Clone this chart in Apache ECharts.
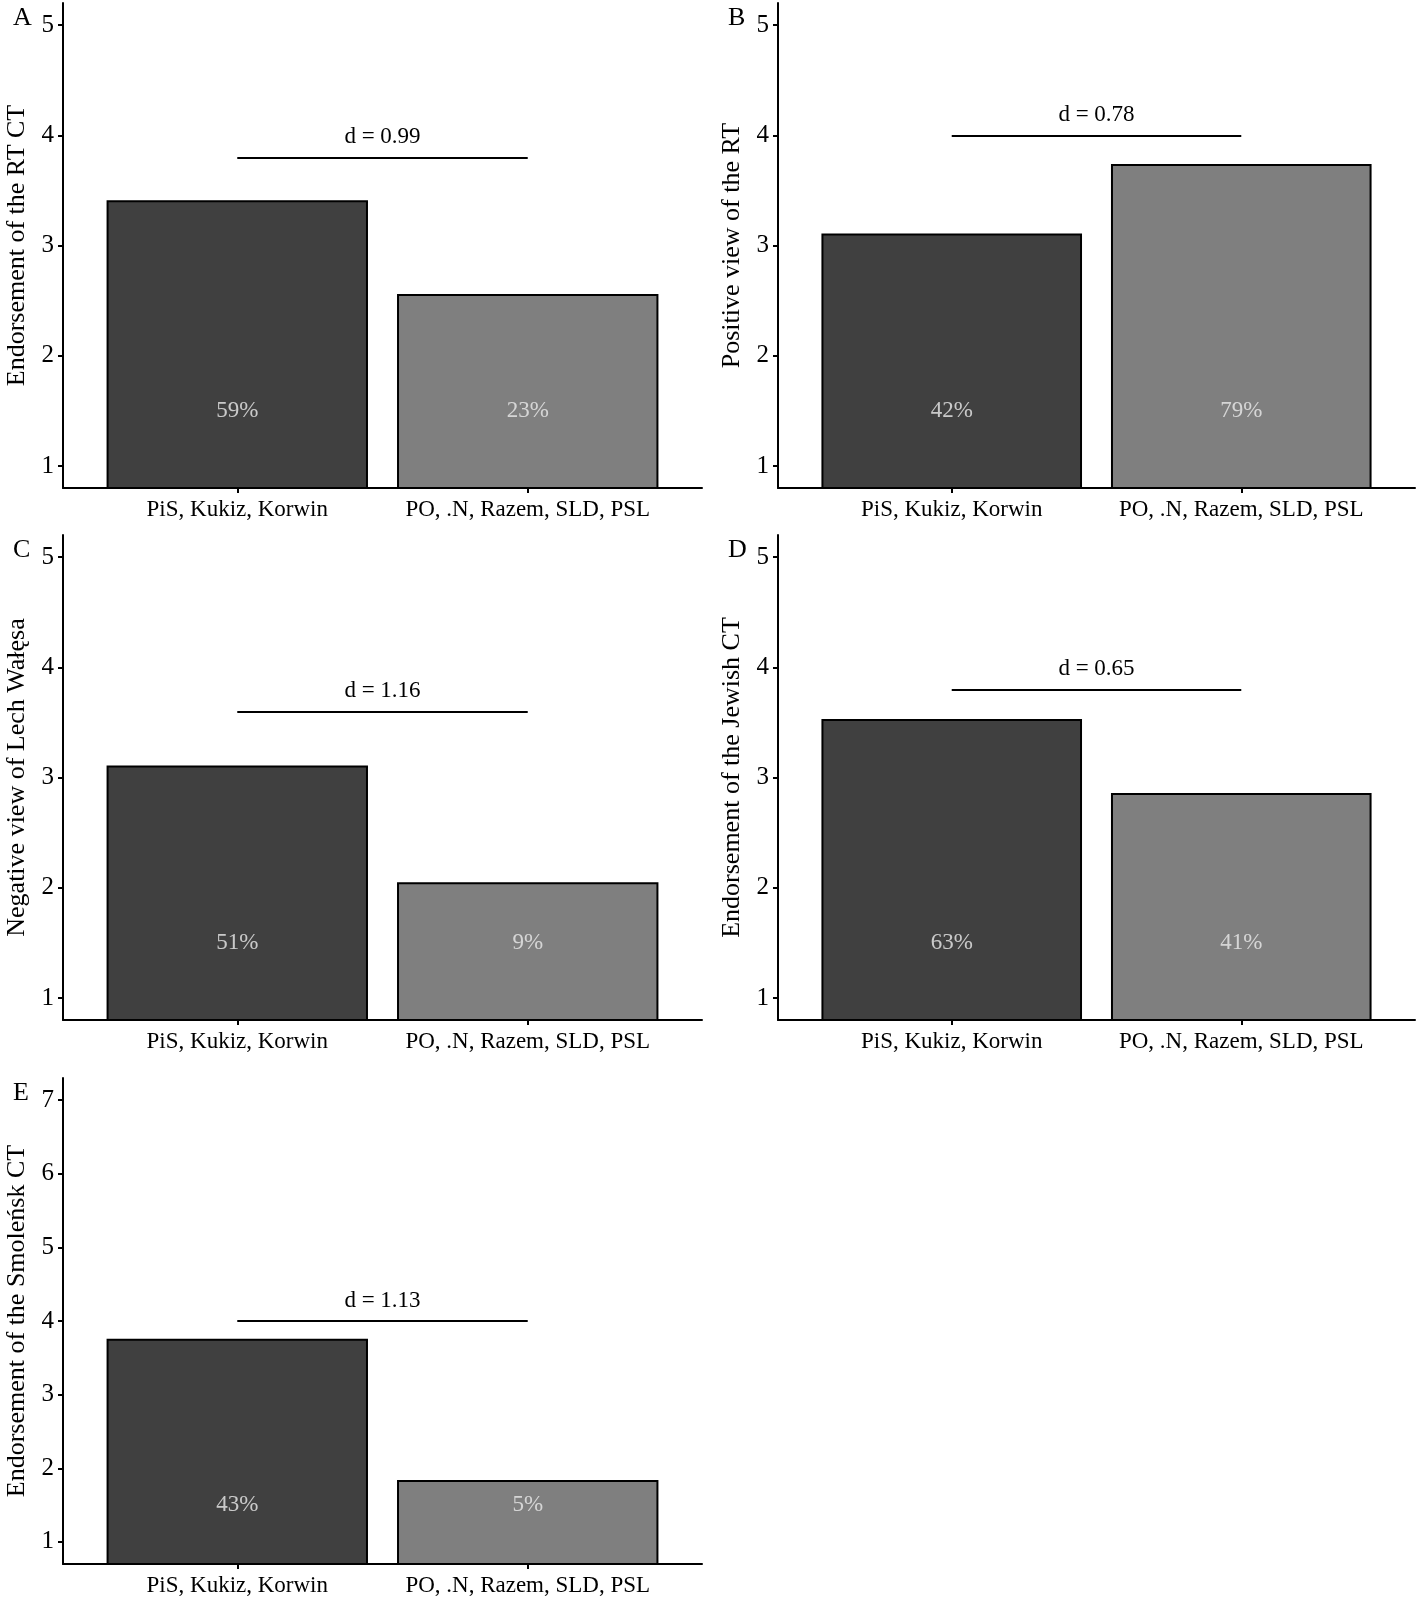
<!DOCTYPE html>
<html>
<head>
    <meta charset="UTF-8">
    <script src="https://cdn.jsdelivr.net/npm/echarts@6/dist/echarts.min.js"></script>
    <style>
        html, body { margin: 0; padding: 0; background: #fff; }
        #main { width: 1428px; height: 1598px; }
    </style>
</head>
<body>
<div id="main"></div>
<script type="text/javascript">
    // data
    var groups = ['PiS, Kukiz, Korwin', 'PO, .N, Razem, SLD, PSL'];
    var panelLetters = ['A', 'B', 'C', 'D', 'E'];
    var yTitles = ['Endorsement of the RT CT', 'Positive view of the RT', 'Negative view of Lech Wałęsa',
        'Endorsement of the Jewish CT', 'Endorsement of the Smoleńsk CT'];
    var pisMeans = [3.41, 3.11, 3.11, 3.53, 3.76];
    var poMeans = [2.56, 3.74, 2.05, 2.86, 1.84];
    var pisPct = ['59%', '42%', '51%', '63%', '43%'];
    var poPct = ['23%', '79%', '9%', '41%', '5%'];
    var dValues = ['0.99', '0.78', '1.16', '0.65', '1.13'];
    var dHeights = [3.8, 4.0, 3.6, 3.8, 4.0];
    var pctHeight = 1.5;
    var yTicksSmall = [1, 2, 3, 4, 5];
    var yTicksLarge = [1, 2, 3, 4, 5, 6, 7];

    var font = 'Liberation Serif';
    var fs = 23;
    var barColors = ['#404040', '#7f7f7f'];

    // panel boxes (px): left, right margin, top, height
    var boxes = [
        {left: 63, right: 726, top: 3, height: 485},
        {left: 778, right: 13, top: 3, height: 485},
        {left: 63, right: 726, top: 535, height: 485},
        {left: 778, right: 13, top: 535, height: 485},
        {left: 63, right: 726, top: 1078, height: 486}
    ];

    var myChart = echarts.init(document.getElementById('main'));
    var grids = [], xAxes = [], yAxes = [], series = [], titles = [];

    for (var i = 0; i < 5; i++) {
        var b = boxes[i];
        var big = i === 4;
        var ticks = big ? yTicksLarge : yTicksSmall;
        var gridW = 1428 - b.left - b.right;
        grids.push({left: b.left, right: b.right, top: b.top, height: b.height});
        titles.push({
            text: panelLetters[i], left: b.left - 55, top: b.top - 3,
            textStyle: {fontFamily: font, fontSize: 26, fontWeight: 'normal', color: '#000'}
        });
        xAxes.push({
            gridIndex: i, type: 'value', min: 0.4, max: 2.6,
            splitLine: {show: false},
            axisLine: {lineStyle: {color: '#000', width: 2}},
            axisTick: {customValues: [1, 2], length: 5, lineStyle: {color: '#000', width: 2}},
            axisLabel: {
                customValues: [1, 2], margin: 10, color: '#000', fontFamily: font, fontSize: fs,
                formatter: function (v) { return groups[Math.round(v) - 1]; }
            }
        });
        yAxes.push({
            gridIndex: i, type: 'value',
            min: big ? 0.7 : 0.8, max: big ? 7.3 : 5.2,
            name: yTitles[i], nameLocation: 'middle', nameGap: 33,
            nameTextStyle: {fontFamily: font, fontSize: 26, color: '#000'},
            splitLine: {show: false},
            axisLine: {show: true, lineStyle: {color: '#000', width: 2}},
            axisTick: {show: true, customValues: ticks, length: 5, lineStyle: {color: '#000', width: 2}},
            axisLabel: {customValues: ticks, margin: 9, color: '#000', fontFamily: font, fontSize: 25}
        });
        series.push({
            type: 'bar', xAxisIndex: i, yAxisIndex: i, clip: true,
            barWidth: 0.9 * gridW / 2.2,
            data: [
                {value: [1, pisMeans[i]], itemStyle: {color: barColors[0]}},
                {value: [2, poMeans[i]], itemStyle: {color: barColors[1]}}
            ],
            itemStyle: {borderColor: '#000', borderWidth: 2},
            markLine: {
                silent: true, symbol: 'none', animation: false,
                lineStyle: {color: '#000', width: 2, type: 'solid'},
                label: {
                    show: true, position: 'insideMiddleTop', distance: 9,
                    formatter: 'd = ' + dValues[i],
                    color: '#000', fontFamily: font, fontSize: fs
                },
                data: [[{coord: [1, dHeights[i]]}, {coord: [2, dHeights[i]]}]]
            }
        });
        series.push({
            type: 'scatter', xAxisIndex: i, yAxisIndex: i, symbolSize: 0, silent: true,
            data: [[1, pctHeight], [2, pctHeight]],
            label: {
                show: true, position: 'inside', color: '#ebebeb', fontFamily: font, fontSize: fs,
                formatter: (function (k) {
                    return function (p) { return p.dataIndex === 0 ? pisPct[k] : poPct[k]; };
                })(i)
            }
        });
    }

    myChart.setOption({
        animation: false,
        backgroundColor: '#fff',
        title: titles,
        grid: grids,
        xAxis: xAxes,
        yAxis: yAxes,
        series: series
    });
</script>
</body>
</html>
